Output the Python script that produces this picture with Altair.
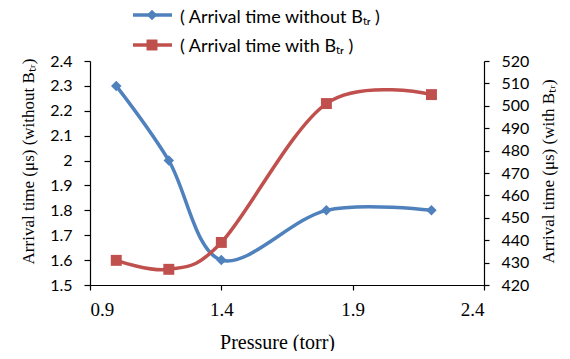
import altair as alt
import pandas as pd

pressure = [1.0, 1.2, 1.4, 1.8, 2.2]
time_without = [2.3, 2.0, 1.6, 1.8, 1.8]
time_with = [431, 427, 439, 501, 505]

x_ticks = [0.9, 1.4, 1.9, 2.4]
left_ticks = [1.5, 1.6, 1.7, 1.8, 1.9, 2.0, 2.1, 2.2, 2.3, 2.4]
right_ticks = [420, 430, 440, 450, 460, 470, 480, 490, 500, 510, 520]

legend_labels = ["( Arrival time without Bₜᵣ )", "( Arrival time with Bₜᵣ )"]

BLUE = "#4F81BD"
RED = "#C0504D"

df = pd.DataFrame({"p": pressure, "wo": time_without, "w": time_with})

x = alt.X("p:Q", scale=alt.Scale(domain=[0.9, 2.4], nice=False),
          axis=alt.Axis(values=x_ticks, format=".1f", title="Pressure (torr)",
                        labelFont="Liberation Serif", labelFontSize=19,
                        titleFont="Liberation Serif", titleFontSize=20,
                        titleFontWeight="normal", labelPadding=10, titlePadding=13,
                        titleX=187, tickSize=5))

yl = alt.Y("wo:Q", scale=alt.Scale(domain=[1.5, 2.4], nice=False, zero=False),
           axis=alt.Axis(values=left_ticks, format="~g", orient="left",
                         title="Arrival time (μs) (without Bₜᵣ)",
                         labelFont="Lato", labelFontSize=16, labelPadding=12,
                         titleFont="Liberation Serif", titleFontSize=17,
                         titleFontWeight="normal", titlePadding=12, titleY=100,
                         tickSize=6))

yr = alt.Y("w:Q", scale=alt.Scale(domain=[420, 520], nice=False, zero=False),
           axis=alt.Axis(values=right_ticks, orient="right",
                         title="Arrival time (μs) (with Bₜᵣ)",
                         labelFont="Lato", labelFontSize=16, labelPadding=12,
                         titleFont="Liberation Serif", titleFontSize=17,
                         titleFontWeight="normal", titlePadding=12, titleAngle=270,
                         titleBaseline="top", titleY=110, tickSize=5))

base = alt.Chart(df)
blue_line = base.mark_line(color=BLUE, strokeWidth=3.5, interpolate="cardinal").encode(x=x, y=yl)
blue_pts = base.mark_point(shape="diamond", filled=True, color=BLUE, size=110, opacity=1).encode(x=x, y=yl)
red_line = base.mark_line(color=RED, strokeWidth=3.5, interpolate="cardinal").encode(x=x, y=yr)
red_pts = base.mark_point(shape="square", filled=True, color=RED, size=120, opacity=1).encode(x=x, y=yr)

left = alt.layer(blue_line, blue_pts)
right = alt.layer(red_line, red_pts)

leg_df = pd.DataFrame({"label": legend_labels})
leg1 = alt.Chart(leg_df.iloc[[0]])
leg2 = alt.Chart(leg_df.iloc[[1]])
legend = alt.layer(
    leg1.mark_rule(color=BLUE, strokeWidth=3.5).encode(x=alt.value(43), x2=alt.value(82), y=alt.value(-46)),
    leg1.mark_point(shape="diamond", filled=True, color=BLUE, size=110, opacity=1).encode(x=alt.value(62), y=alt.value(-46)),
    leg1.mark_text(align="left", baseline="middle", font="Lato", fontSize=18, color="black").encode(
        x=alt.value(90), y=alt.value(-43), text="label:N"),
    leg2.mark_rule(color=RED, strokeWidth=3.5).encode(x=alt.value(43), x2=alt.value(82), y=alt.value(-16)),
    leg2.mark_point(shape="square", filled=True, color=RED, size=120, opacity=1).encode(x=alt.value(62), y=alt.value(-16)),
    leg2.mark_text(align="left", baseline="middle", font="Lato", fontSize=18, color="black").encode(
        x=alt.value(90), y=alt.value(-14), text="label:N"),
)

chart = alt.layer(left, right, legend).resolve_scale(y="independent").properties(
    width=394, height=224,
    autosize=alt.AutoSizeParams(type="none"),
    padding={"left": 82, "top": 53, "right": 78, "bottom": 66},
    background="white",
).configure_view(stroke=None).configure_axis(
    grid=False, domainColor="black", tickColor="black", labelColor="black",
    titleColor="black", domainWidth=1.2, tickWidth=1.2,
)

chart.save("out.html", embed_options={"renderer": "svg", "actions": False})
